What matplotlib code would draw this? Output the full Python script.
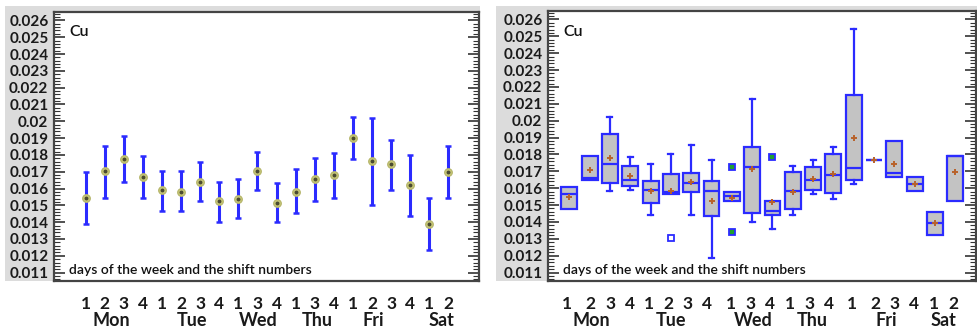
import matplotlib
matplotlib.use("Agg")
import matplotlib.pyplot as plt
from matplotlib.patches import Rectangle
from matplotlib.ticker import MultipleLocator, FormatStrFormatter
import numpy as np

plt.rcParams['font.family'] = ['Lato', 'DejaVu Sans']

# shift numbers and days
shifts = ['1', '2', '3', '4', '1', '2', '3', '4', '1', '3', '4', '1', '3', '4', '1', '2', '3', '4', '1', '2']
days = ['Mon', 'Tue', 'Wed', 'Thu', 'Fri', 'Sat']

# left panel: means with interval
means = [0.01546, 0.01703, 0.01775, 0.01667, 0.01592, 0.01580, 0.01636, 0.01525, 0.01540, 0.01707,
         0.01515, 0.01580, 0.01658, 0.01681, 0.01900, 0.01765, 0.01745, 0.01620, 0.01388, 0.01697]
ci_low = [0.01390, 0.01542, 0.01640, 0.01542, 0.01465, 0.01465, 0.01523, 0.01398, 0.01423, 0.01590,
          0.01398, 0.01455, 0.01523, 0.01542, 0.01775, 0.01505, 0.01590, 0.01437, 0.01235, 0.01542]
ci_high = [0.01697, 0.01854, 0.01910, 0.01796, 0.01707, 0.01707, 0.01755, 0.01640, 0.01658, 0.01820,
           0.01630, 0.01715, 0.01784, 0.01812, 0.02025, 0.02017, 0.01890, 0.01802, 0.01542, 0.01852]

# right panel: box plot stats
q1 = [0.01475, 0.01649, 0.01631, 0.01613, 0.01514, 0.01564, 0.01578, 0.01436, 0.01522, 0.01453,
      0.01441, 0.01475, 0.01590, 0.01572, 0.01651, 0.01765, 0.01668, 0.01582, 0.01321, 0.01522]
med = [0.01566, 0.01663, 0.01745, 0.01651, 0.01590, 0.01578, 0.01633, 0.01582, 0.01556, 0.01728,
       0.01463, 0.01582, 0.01651, 0.01678, 0.01718, 0.01765, 0.01688, 0.01625, 0.01396, 0.01791]
q3 = [0.01605, 0.01793, 0.01921, 0.01734, 0.01643, 0.01684, 0.01692, 0.01643, 0.01576, 0.01846,
      0.01522, 0.01698, 0.01728, 0.01801, 0.02150, 0.01765, 0.01878, 0.01664, 0.01461, 0.01793]
whis_lo = [0.01475, 0.01649, 0.01584, 0.01590, 0.01441, 0.01564, 0.01441, 0.01187, 0.01522, 0.01402,
           0.01361, 0.01441, 0.01564, 0.01536, 0.01627, 0.01765, 0.01668, 0.01582, 0.01321, 0.01522]
whis_hi = [0.01605, 0.01793, 0.02024, 0.01787, 0.01745, 0.01805, 0.01854, 0.01767, 0.01576, 0.02126,
           0.01522, 0.01734, 0.01767, 0.01846, 0.02543, 0.01765, 0.01878, 0.01664, 0.01461, 0.01793]
box_mean = [0.01548, 0.01706, 0.01777, 0.01672, 0.01585, 0.01584, 0.01637, 0.01522, 0.01544, 0.01712,
            0.01516, 0.01580, 0.01655, 0.01684, 0.01899, 0.01765, 0.01743, 0.01625, 0.01396, 0.01696]

# outliers: (box index, value, filled)
out_idx = [5, 8, 8, 10]
out_val = [0.01305, 0.01726, 0.01341, 0.01787]
out_filled = [False, True, True, True]

# label layout
day_pos_left = [1.35, 5.58, 9.04, 12.15, 15.07, 18.65]
day_pos_right = [1.08, 5.0, 9.07, 11.95, 15.6, 18.4]
num_pos_right = [-0.11, 1.05, 2.02, 2.97, 3.93, 4.89, 5.84, 6.8, 7.97, 8.92,
                 9.89, 10.85, 11.82, 12.77, 13.93, 15.05, 16.02, 16.98, 17.95, 18.9]

BLUE = '#2b2bff'
W, H = 977, 327

fig = plt.figure(figsize=(W / 100, H / 100), dpi=100)
fig.patch.set_facecolor('white')

# gray backdrops behind each panel
for x0, x1 in [(5, 480), (496, 977)]:
    fig.add_artist(Rectangle((x0 / W, 1 - 281 / H), (x1 - x0) / W, (281 - 6) / H,
                             transform=fig.transFigure, facecolor='#dcdcdc',
                             edgecolor='none', zorder=-5))

axL = fig.add_axes([54 / W, 1 - 281 / H, (479 - 54) / W, (281 - 12) / H])
axR = fig.add_axes([548 / W, 1 - 281 / H, (976 - 548) / W, (281 - 11) / H])

x = np.arange(len(shifts))


def style_axes(ax, xlim, num_pos, day_pos):
    ax.set_facecolor('white')
    ax.set_ylim(0.0105, 0.0265)
    ax.set_xlim(*xlim)
    ax.yaxis.set_major_locator(MultipleLocator(0.001))
    ax.yaxis.set_minor_locator(MultipleLocator(0.0002))
    ax.yaxis.set_major_formatter(FormatStrFormatter('%g'))
    ax.tick_params(axis='y', which='both', direction='in', left=True, right=True,
                   colors='#333333', labelsize=11, labelcolor='#1a1a1a')
    ax.tick_params(axis='y', which='major', length=8, width=1.2, pad=4)
    ax.tick_params(axis='y', which='minor', length=4, width=0.8)
    for lab in ax.get_yticklabels():
        lab.set_fontweight('bold')
    ax.set_xticks(num_pos)
    ax.set_xticklabels(shifts, fontsize=12.5, fontweight='bold', color='#1a1a1a')
    ax.tick_params(axis='x', length=0, pad=11)
    for d, p in zip(days, day_pos):
        ax.text(p, -0.145, d, transform=ax.get_xaxis_transform(), ha='center', va='center',
                fontsize=13, fontweight='bold', color='#1a1a1a')
    for s in ax.spines.values():
        s.set_color('#444444')
        s.set_linewidth(1.6)
    ax.text(0.035, 0.95, 'Cu', transform=ax.transAxes, ha='left', va='top',
            fontsize=11.5, fontweight='semibold', color='#111111')
    ax.text(0.035, 0.04, 'days of the week and the shift numbers', transform=ax.transAxes,
            ha='left', va='center', fontsize=10, fontweight='semibold', color='#111111')


# left panel: means and intervals
m = np.array(means)
yerr = [m - np.array(ci_low), np.array(ci_high) - m]
axL.errorbar(x, m, yerr=yerr, fmt='none', ecolor=BLUE, elinewidth=2.2, capsize=2.5,
             capthick=1.8, zorder=3)
axL.plot(x, m, linestyle='none', marker='o', markersize=5.5, markerfacecolor='#c8c878',
         markeredgecolor='#b4b468', markeredgewidth=0.8, zorder=4)
axL.plot(x, m, linestyle='none', marker='o', markersize=1.8, color='#4a4a30', zorder=5)
style_axes(axL, (-1.66, 20.61), x, day_pos_left)

# right panel: box plots
stats = []
for i in range(len(shifts)):
    stats.append({'med': med[i], 'q1': q1[i], 'q3': q3[i], 'whislo': whis_lo[i],
                  'whishi': whis_hi[i], 'mean': box_mean[i], 'fliers': []})
bp = axR.bxp(stats, positions=x, widths=0.78, capwidths=0.25, patch_artist=True,
             showmeans=True, showfliers=False,
             boxprops=dict(facecolor='#c3c3c3', edgecolor=BLUE, linewidth=1.6),
             medianprops=dict(color=BLUE, linewidth=1.6),
             whiskerprops=dict(color=BLUE, linewidth=1.6),
             capprops=dict(color=BLUE, linewidth=1.6),
             meanprops=dict(marker='+', markeredgecolor='#b8622a', markersize=5,
                            markeredgewidth=1.4))
for i in range(len(shifts)):
    if whis_lo[i] == q1[i]:
        bp['caps'][2 * i].set_visible(False)
    if whis_hi[i] == q3[i]:
        bp['caps'][2 * i + 1].set_visible(False)

for i, v, f in zip(out_idx, out_val, out_filled):
    axR.plot(x[i], v, linestyle='none', marker='s', markersize=4.5,
             markerfacecolor='#1f9f2f' if f else 'white', markeredgecolor=BLUE,
             markeredgewidth=1.3, zorder=4)
style_axes(axR, (-1.05, 20.02), num_pos_right, day_pos_right)

fig.savefig('out.png', dpi=100)
